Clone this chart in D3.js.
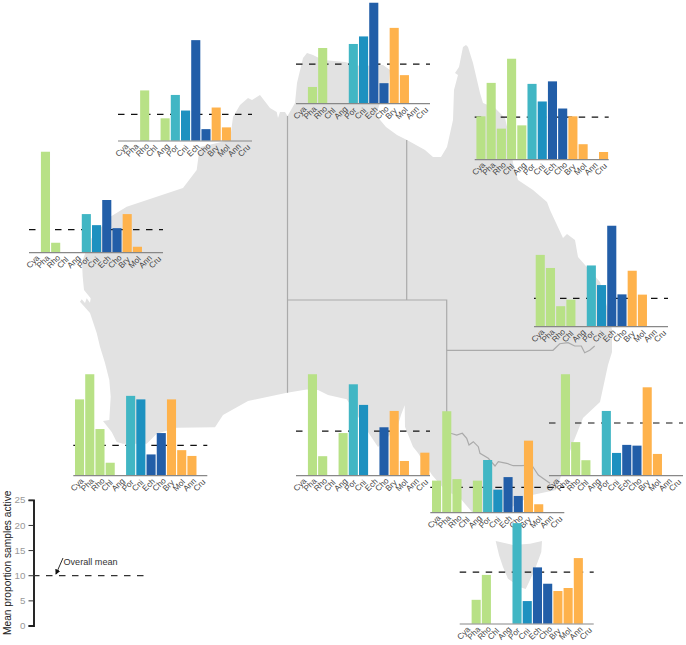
<!DOCTYPE html>
<html><head><meta charset="utf-8">
<script src="https://cdn.jsdelivr.net/npm/d3@7"></script>
<style>html,body{margin:0;padding:0;background:#fff}svg{display:block}text{font-family:"Liberation Sans",Arial,sans-serif}</style>
</head><body><div id="c"></div>
<script>
const categories = ["Cya","Pha","Rho","Chl","Ang","Por","Cni","Ech","Cho","Bry","Mol","Ann","Cru"];
const groupColors = ["#b8e186","#b8e186","#b8e186","#b8e186","#b8e186","#41b6c4","#1d91c0","#225ea8","#225ea8","#feb24c","#feb24c","#feb24c","#feb24c"];
const yTicks = [0,5,10,15,20,25];
const overallMean = 10;

const west      = [0,20,1.9,0,0,7.6,5.4,10.4,4.8,7.6,1.1,0,0];
const kimberley = [0,0,10,0,4.45,9.1,6,20,2.3,6.6,2.65,0,0];
const topEnd    = [0,3.25,11,0,0,11.8,13.3,20,4,15,5.6,0,0];
const northQld  = [8.55,15.2,6.1,20,6.75,15,11.5,15.5,10.1,8.55,3,0,1.45];
const eastQld   = [14.2,11.6,4,5.3,0,12.1,8.2,20,6.35,11.05,6.3,0,0];
const southWest = [15.1,20.1,9.2,2.5,0,15.8,15.1,4.15,8.4,15.1,5,3.85,0];
const southAus  = [0,20.1,3.8,0,8.4,18.1,14,0,9.55,12.8,2.85,0,4.5];
const victoria  = [6.3,20.1,6.6,0,6.3,10.4,4.5,7,3.25,14.25,1.6,0,0];
const nsw       = [0,20.1,6.6,3,0,12.8,4.45,6.05,5.9,17.5,4.25,0,0];
const tasmania  = [0,4.75,9.7,0,0,20,4.5,11.2,7.95,6.5,7.1,13.05,0];
const means     = [4.5,5.25,7.8,8.4,5.55,5.95,8.8,4.95,10.4,10.25];

const seriesList = [west,kimberley,topEnd,northQld,eastQld,southWest,southAus,victoria,nsw,tasmania];
const panelLayout = [[29,252.3],[118,140.7],[296,103.3],[474.7,159.3],[534,326.3],[73.3,475.3],[296,475.3],[430.3,512.3],[549,475.3],[459.7,623.7]];

const mainland = [[82,262],[90,240],[110,217],[126.7,206.7],[156.7,196.7],[183,188],[196.7,170],[198,160],[200,147],[230,140],[233,117],[240,105],[248,98],[252,100],[260,95],[270,108],[276.7,112],[278,118],[280,112],[285,112],[287.5,116],[295,103],[297,83],[303,58],[307,53],[313,55],[323,60],[345,62],[360,66],[383,65],[390,70],[388,90],[380,103],[376,115],[386,127],[397,135],[407,140],[425,150],[433,157],[441,157],[447,147],[453,120],[454,90],[458,75],[455,73],[459,67],[463,47],[466,45],[468,47],[473,63],[480,93],[483,103],[495,108],[505,118],[510,140],[513,163],[518,180],[533,190],[547,202],[550,210],[563,238],[567,234],[575,240],[578,257],[600,282],[608,310],[612,330],[612,352],[608,365],[600,402],[583,418],[573,443],[565,465],[556,490],[532,495],[512,507],[500,512],[472,512],[460,498],[445,490],[432,475],[418,453],[413,446.7],[405,426.7],[404.7,405.3],[401,415],[398,425],[388,437],[378,447],[370,435],[346.7,399.3],[328,395],[318,390],[306.7,389.5],[287,392.7],[248,401],[223,415],[215,427.3],[176.7,427.7],[156.7,433.7],[146.7,443.7],[123,443.7],[116.7,442],[111.7,432],[103,421],[109.3,420],[110.7,396.7],[109.3,380],[105,363],[100,346.7],[96.7,333],[90,313],[80,301.7],[81.7,299.3],[85,303],[86.7,298.3],[90,302.7],[90.7,298.3],[84,290],[82.7,276.7]];
const tasmaniaShape = [[495.7,541],[513,545],[530,543.7],[542,541],[541.3,552],[534.7,570],[525.7,589],[519.7,587],[508,578.7],[503,567],[499,555]];
const stateBorders = [
  [[287.5,116],[287.5,392.7]],
  [[287.5,300],[446.7,300],[446.7,434]],
  [[446.7,350.3],[553,350.3],[559.7,343.7],[568,342.7],[574.7,346],[581.3,346],[584.7,352.7],[589.7,350.3],[594.7,346]],
  [[406.7,140],[406.7,300]],
  [[446.7,432],[450.7,433.3],[456.7,435],[462.3,433.3],[466.7,438.3],[469,445],[473.3,441.7],[478.3,446.7],[480,453.3],[488.3,458.3],[495,466],[498.3,461.7],[506.7,463.3],[513.3,465.7],[521.7,465.7],[531.7,465],[538.3,475],[550,483.3]]
];

const svg = d3.select("#c").append("svg").attr("width",686).attr("height",645);
const line = d3.line();
const map = svg.append("g");
map.append("path").attr("d",line(mainland)+"Z").attr("fill","#e2e2e2");
map.append("path").attr("d",line(tasmaniaShape)+"Z").attr("fill","#e2e2e2");
map.selectAll("path.b").data(stateBorders).join("path").attr("class","b").attr("d",line)
  .attr("fill","none").attr("stroke","#aaa").attr("stroke-width",1.2);

const x = d3.scaleBand().domain(categories).range([1.7,133.4]).paddingInner(0.11).paddingOuter(0);
const y = d3.scaleLinear().domain([0,25]).range([0,-125.7]);

seriesList.forEach((values,i)=>{
  const [px,py] = panelLayout[i];
  const g = svg.append("g").attr("transform",`translate(${px},${py})`);
  g.append("line").attr("x1",0).attr("x2",134).attr("y1",y(means[i])).attr("y2",y(means[i]))
    .attr("stroke","#111").attr("stroke-width",1.2).attr("stroke-dasharray","6.5 6.5");
  g.selectAll("rect").data(values.map((v,j)=>({v,c:categories[j],col:groupColors[j]})).filter(d=>d.v>0))
    .join("rect").attr("x",d=>x(d.c)).attr("width",x.bandwidth())
    .attr("y",d=>y(d.v)).attr("height",d=>-y(d.v)).attr("fill",d=>d.col);
  g.append("line").attr("x1",0).attr("x2",134).attr("y1",0.3).attr("y2",0.3).attr("stroke","#888").attr("stroke-width",1.2);
  g.selectAll("text").data(categories).join("text")
    .attr("transform",d=>`translate(${x(d)+x.bandwidth()/2-5.5},16.5) rotate(-45)`)
    .attr("text-anchor","start")
    .attr("font-size",8.2).attr("fill","#444").text(d=>d);
});

// key
const ky = d3.scaleLinear().domain([0,25]).range([625.5,499.8]);
const axis = svg.append("g").attr("transform","translate(33.5,0)")
  .call(d3.axisLeft(ky).tickValues(yTicks).tickSize(5).tickPadding(3));
axis.select(".domain").attr("stroke","#111").attr("stroke-width",1.8);
axis.selectAll(".tick line").attr("stroke","#333");
axis.selectAll(".tick text").attr("fill","#999").attr("font-size",9.8).attr("font-family",'"Liberation Sans",Arial,sans-serif');
svg.append("line").attr("x1",33).attr("x2",148).attr("y1",ky(overallMean)+.5).attr("y2",ky(overallMean)+.5)
  .attr("stroke","#333").attr("stroke-width",1.2).attr("stroke-dasharray","6.5 6.5");
svg.append("text").attr("transform","translate(11,635) rotate(-90)").attr("font-size",10.2).attr("fill","#222")
  .text("Mean proportion samples active");
svg.append("text").attr("x",63.5).attr("y",564.5).attr("font-size",9.1).attr("fill","#333").text("Overall mean");
svg.append("defs").append("marker").attr("id","ah").attr("viewBox","0 0 6 6").attr("refX",5).attr("refY",3)
  .attr("markerWidth",6).attr("markerHeight",6).attr("orient","auto")
  .append("path").attr("d","M0,0L6,3L0,6Z").attr("fill","#111");
svg.append("line").attr("x1",63).attr("y1",558).attr("x2",56).attr("y2",574)
  .attr("stroke","#111").attr("stroke-width",0.9).attr("marker-end","url(#ah)");
</script></body></html>
